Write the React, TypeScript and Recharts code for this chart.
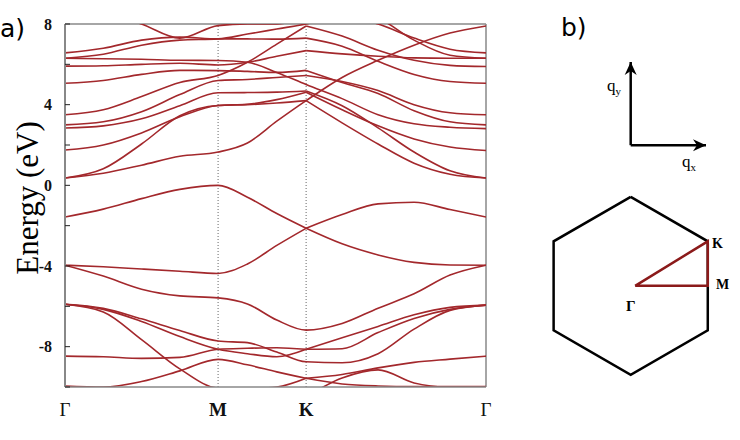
import React from "react";
import { LineChart, Line, XAxis, YAxis, ReferenceLine } from "recharts";

// k-path Γ -> M -> K -> Γ (path length, Γ-M = 1)
const kPoints = [0, 0.25, 0.5, 0.75, 1, 1.1917, 1.3833, 1.575, 1.81, 2.045, 2.28, 2.515, 2.75];
const kTicks = [0, 1, 1.575, 2.75];
const kLabels = ["Γ", "M", "K", "Γ"];
const energyTicks = [-10, -8, -6, -4, -2, 0, 2, 4, 6, 8];
const energyLabels = [8, 4, 0, -4, -8];

// band energies (eV) at each k point
const bandA = [-1.57, -1.18, -0.66, -0.2, 0.0, -0.59, -1.4, -2.13, -1.45, -0.92, -0.84, -1.2, -1.57];
const bandB = [-3.96, -4.04, -4.15, -4.26, -4.37, -3.9, -2.98, -2.13, -2.9, -3.45, -3.82, -3.95, -3.96];
const bandC = [-3.96, -4.5, -5.15, -5.48, -5.58, -5.88, -6.68, -7.18, -6.85, -6.09, -5.38, -4.45, -3.96];
const bandD1 = [-5.9, -6.1, -6.62, -7.2, -7.72, -7.8, -8.27, -8.75, -8.8, -8.35, -7.13, -6.2, -5.94];
const bandD2 = [-5.9, -6.15, -6.75, -7.5, -8.13, -8.35, -8.5, -8.13, -8.1, -7.3, -6.6, -6.15, -5.94];
const bandD3 = [-5.9, -6.28, -7.65, -9.1, -10.05, -10.08, -10.0, -9.57, -9.38, -9.05, -8.78, -8.62, -8.47];
const bandE = [-8.47, -8.5, -8.58, -8.53, -8.13, -8.08, -8.05, -8.13, -7.56, -7.0, -6.42, -6.05, -5.94];
const bandF = [-9.95, -10.0, -9.73, -9.2, -8.63, -8.9, -9.25, -9.57, -9.85, -9.95, -9.98, -9.98, -9.98];
const bandH = [-10.05, -10.4, -10.9, -11.3, -11.5, -11.2, -10.8, -10.4, -9.55, -9.15, -9.8, -10.02, -10.05];

const bandI = [0.36, 0.6, 1.0, 1.44, 1.65, 2.1, 3.18, 4.2, 5.35, 6.2, 6.95, 7.55, 7.9];
const bandJ = [0.36, 0.82, 2.05, 3.45, 3.96, 4.0, 4.08, 4.2, 3.1, 2.05, 1.1, 0.55, 0.36];
const bandL = [1.75, 2.0, 2.6, 3.4, 3.96, 4.02, 4.25, 4.62, 3.75, 2.95, 2.3, 1.9, 1.73];
const bandJ3 = [2.84, 2.95, 3.3, 3.95, 4.59, 4.6, 4.62, 4.68, 3.95, 2.85, 1.65, 0.72, 0.36];
const bandP = [3.0, 3.15, 3.65, 4.5, 5.2, 5.25, 5.35, 5.45, 5.15, 4.7, 4.0, 3.6, 3.5];
const bandQ = [3.5, 3.75, 4.4, 5.1, 5.45, 6.1, 7.0, 7.9, 7.4, 6.7, 6.2, 5.95, 5.89];
const bandR = [5.06, 5.2, 5.5, 5.7, 5.69, 5.65, 5.6, 5.7, 5.1, 4.55, 3.7, 3.15, 3.0];
const bandS = [5.91, 5.93, 6.0, 6.05, 5.97, 6.1, 6.4, 6.68, 6.52, 6.4, 6.32, 6.3, 6.3];
const bandU = [6.3, 6.28, 6.25, 6.2, 6.19, 6.1, 5.6, 5.0, 4.3, 3.5, 3.05, 2.88, 2.81];
const bandV = [6.3, 6.5, 6.95, 7.2, 7.26, 7.5, 7.75, 8.0, 8.4, 8.0, 7.3, 6.75, 6.57];
const bandW = [6.57, 6.8, 7.2, 7.35, 7.26, 7.26, 7.25, 7.3, 6.9, 6.15, 5.5, 5.15, 5.06];
const bandT = [9.5, 8.6, 8.0, 7.3, 7.92, 8.0, 8.0, 8.3, 8.8, 8.3, 7.2, 6.45, 6.3];

const bands = [
  { id: "A", e: bandA, cuspK: true },
  { id: "B", e: bandB, cuspK: true },
  { id: "C", e: bandC, cuspK: false },
  { id: "D1", e: bandD1, cuspK: false },
  { id: "D2", e: bandD2, cuspK: true },
  { id: "D3", e: bandD3, cuspK: true },
  { id: "E", e: bandE, cuspK: true },
  { id: "F", e: bandF, cuspK: true },
  { id: "H", e: bandH, cuspK: false },
  { id: "I", e: bandI, cuspK: false },
  { id: "J", e: bandJ, cuspK: true },
  { id: "L", e: bandL, cuspK: true },
  { id: "J3", e: bandJ3, cuspK: true },
  { id: "P", e: bandP, cuspK: true },
  { id: "Q", e: bandQ, cuspK: true },
  { id: "R", e: bandR, cuspK: true },
  { id: "S", e: bandS, cuspK: true },
  { id: "U", e: bandU, cuspK: false },
  { id: "V", e: bandV, cuspK: false },
  { id: "W", e: bandW, cuspK: true },
  { id: "T", e: bandT, cuspK: false },
];

// Brillouin zone sketch (units of the hexagon circumradius)
const bzHexagon = [
  { x: 0, y: 1 },
  { x: 0.866, y: 0.5 },
  { x: 0.866, y: -0.5 },
  { x: 0, y: -1 },
  { x: -0.866, y: -0.5 },
  { x: -0.866, y: 0.5 },
  { x: 0, y: 1 },
];
const bzPath = [
  { x: 0.05, y: 0 },
  { x: 0.866, y: 0 },
  { x: 0.866, y: 0.5 },
  { x: 0.05, y: 0 },
];
const axisQy = [
  { x: 0, y: 1.58 },
  { x: 0, y: 2.515 },
];
const axisQx = [
  { x: 0, y: 1.58 },
  { x: 0.846, y: 1.58 },
];

const BAND_COLOR = "#a3282c";
const serif = '"Liberation Serif", "Times New Roman", serif';
const sans = '"DejaVu Sans", sans-serif';

function segments(band: { e: number[]; cuspK: boolean }) {
  const pts = kPoints.map((k, i) => ({ k, e: band.e[i] }));
  return band.cuspK ? [pts.slice(0, 8), pts.slice(7)] : [pts];
}

function PathTick(props: any) {
  const { x, y, payload } = props;
  const label = kLabels[kTicks.indexOf(payload.value)];
  return (
    <text
      x={x}
      y={y}
      dy={29}
      textAnchor="middle"
      fontFamily={serif}
      fontSize={19}
      fontWeight={label === "Γ" ? 400 : 700}
      fill="#111"
    >
      {label}
    </text>
  );
}

const arrowHead = (dir: "up" | "right") => (props: any) => {
  const { cx, cy, index } = props;
  if (index !== 1) return <g key={`${dir}-${index}`} />;
  const d =
    dir === "up"
      ? `M${cx},${cy} L${cx - 6},${cy + 13} L${cx},${cy + 9} L${cx + 6},${cy + 13} Z`
      : `M${cx},${cy} L${cx - 13},${cy - 6} L${cx - 9},${cy} L${cx - 13},${cy + 6} Z`;
  return <path key={`${dir}-${index}`} d={d} fill="#000" />;
};

function BandChart() {
  return (
    <LineChart width={500} height={440} margin={{ top: 24, right: 14, bottom: 23, left: 25 }}>
      <XAxis
        type="number"
        dataKey="k"
        domain={[0, 2.75]}
        ticks={kTicks}
        allowDataOverflow
        axisLine={{ stroke: "#888", strokeWidth: 1.5 }}
        tickLine={false}
        tickSize={0}
        tickMargin={0}
        tick={<PathTick />}
        height={30}
      />
      <YAxis
        type="number"
        domain={[-10, 8]}
        ticks={energyTicks}
        allowDataOverflow
        width={40}
        axisLine={{ stroke: "#888", strokeWidth: 2 }}
        tickLine={{ stroke: "#222" }}
        tickSize={-5}
        tickMargin={18}
        tickFormatter={(v: number) => (energyLabels.includes(v) ? String(v) : "")}
        tick={{ fontFamily: serif, fontWeight: 700, fontSize: 16, fill: "#111" }}
      />
      <ReferenceLine y={8} stroke="#888" strokeWidth={1.5} />
      <ReferenceLine x={2.75} stroke="#888" strokeWidth={1.5} />
      <ReferenceLine x={1} stroke="#666" strokeWidth={1} strokeDasharray="1 2" />
      <ReferenceLine x={1.575} stroke="#666" strokeWidth={1} strokeDasharray="1 2" />
      {bands.flatMap((b) =>
        segments(b).map((seg, si) => (
          <Line
            key={`${b.id}-${si}`}
            data={seg}
            dataKey="e"
            type="monotone"
            stroke={BAND_COLOR}
            strokeWidth={1.6}
            dot={false}
            activeDot={false}
            isAnimationActive={false}
          />
        ))
      )}
    </LineChart>
  );
}

function ZoneChart() {
  return (
    <LineChart width={200} height={360} margin={{ top: 0, right: 0, bottom: 0, left: 0 }}>
      <XAxis type="number" dataKey="x" domain={[-1.019, 1.228]} allowDataOverflow hide />
      <YAxis type="number" domain={[-1.283, 2.762]} allowDataOverflow hide />
      <Line data={bzHexagon} dataKey="y" type="linear" stroke="#000" strokeWidth={2.5} dot={false} activeDot={false} isAnimationActive={false} />
      <Line data={bzPath} dataKey="y" type="linear" stroke="#8b1a1a" strokeWidth={2.5} dot={false} activeDot={false} isAnimationActive={false} />
      <Line data={axisQy} dataKey="y" type="linear" stroke="#000" strokeWidth={2.5} dot={arrowHead("up")} activeDot={false} isAnimationActive={false} />
      <Line data={axisQx} dataKey="y" type="linear" stroke="#000" strokeWidth={2.5} dot={arrowHead("right")} activeDot={false} isAnimationActive={false} />
    </LineChart>
  );
}

const abs = (left: number, top: number): React.CSSProperties => ({
  position: "absolute",
  left,
  top,
  whiteSpace: "nowrap",
  lineHeight: 1,
});

export default function App() {
  return (
    <div style={{ position: "absolute", left: 0, top: 0, width: 740, height: 440, background: "#fff" }}>
      <div style={abs(0, 0)}>
        <BandChart />
      </div>
      <div style={abs(540, 40)}>
        <ZoneChart />
      </div>
      <div style={{ ...abs(0, 16), fontFamily: sans, fontSize: 25 }}>a)</div>
      <div style={{ ...abs(561, 15), fontFamily: sans, fontSize: 25 }}>b)</div>
      <div
        style={{
          ...abs(27, 198),
          fontFamily: serif,
          fontSize: 31,
          transform: "translate(-50%, -50%) rotate(-90deg)",
        }}
      >
        Energy (eV)
      </div>
      <div style={{ ...abs(607, 77), fontFamily: serif, fontSize: 17 }}>
        q<sub style={{ fontSize: 11 }}>y</sub>
      </div>
      <div style={{ ...abs(682, 153), fontFamily: serif, fontSize: 17 }}>
        q<sub style={{ fontSize: 11 }}>x</sub>
      </div>
      <div style={{ ...abs(712, 237), fontFamily: serif, fontSize: 14, fontWeight: 700 }}>K</div>
      <div style={{ ...abs(716, 278), fontFamily: serif, fontSize: 14, fontWeight: 700 }}>M</div>
      <div style={{ ...abs(626, 299), fontFamily: serif, fontSize: 15, fontWeight: 700 }}>Γ</div>
    </div>
  );
}
